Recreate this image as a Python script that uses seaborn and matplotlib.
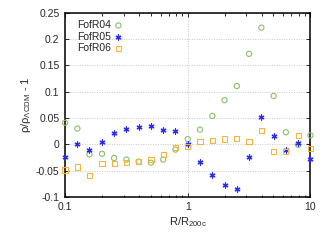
import matplotlib
matplotlib.use("Agg")
import matplotlib.pyplot as plt
import numpy as np
import pandas as pd
import seaborn as sns
from matplotlib.ticker import FixedLocator, LogLocator, NullFormatter

# radii R/R200c, 0.1 decade bins from 0.1 to 10
r_bins = [0.1, 0.126, 0.158, 0.2, 0.251, 0.316, 0.398, 0.501, 0.631, 0.794,
          1.0, 1.259, 1.585, 1.995, 2.512, 3.162, 3.981, 5.012, 6.31, 7.943, 10.0]

fofr04 = [0.041, 0.030, -0.019, -0.018, -0.026, -0.029, -0.033, -0.035, -0.029, -0.010,
          0.010, 0.028, 0.054, 0.084, 0.111, 0.172, 0.222, 0.092, 0.023, -0.001, 0.017]
fofr05 = [-0.024, 0.001, -0.011, 0.005, 0.022, 0.029, 0.033, 0.035, 0.028, 0.025,
          0.001, -0.033, -0.058, -0.077, -0.085, -0.024, 0.052, 0.016, -0.011, 0.002, -0.027]
fofr06 = [-0.049, -0.043, -0.059, -0.037, -0.036, -0.035, -0.033, -0.029, -0.019, -0.006,
          -0.004, 0.006, 0.007, 0.010, 0.011, 0.006, 0.026, -0.014, -0.014, 0.017, -0.008]

y_ticks = [-0.1, -0.05, 0, 0.05, 0.1, 0.15, 0.2, 0.25]
y_ticklabels = ["-0.1", "-0.05", "0", "0.05", "0.1", "0.15", "0.2", "0.25"]

sns.set_style("ticks")
plt.rcParams["font.family"] = ["Liberation Sans", "DejaVu Sans"]
plt.rcParams["mathtext.fontset"] = "custom"
plt.rcParams["mathtext.rm"] = "Liberation Sans"
plt.rcParams["mathtext.it"] = "Liberation Sans"

fig = plt.figure(figsize=(3.32, 2.48), dpi=100)
ax = fig.add_axes([0.196, 0.206, 0.739, 0.742])

series = [
    ("FofR04", fofr04, "#88c06a", "o"),
    ("FofR05", fofr05, "#2b2bf0", (6, 2, 0)),
    ("FofR06", fofr06, "#f7b53c", "s"),
]

for name, vals, col, mk in series:
    df = pd.DataFrame({"r": r_bins, "delta": vals})
    if mk in ("o", "s"):
        sns.scatterplot(data=df, x="r", y="delta", ax=ax, marker=mk, s=14,
                        facecolors="none", edgecolor=col, linewidth=0.8,
                        label=name, clip_on=False, zorder=3)
    else:
        sns.scatterplot(data=df, x="r", y="delta", ax=ax, marker=mk, s=13,
                        color=col, edgecolor=col, linewidth=0.9,
                        label=name, clip_on=False, zorder=3)

ax.set_xscale("log")
ax.set_xlim(0.1, 10)
ax.set_ylim(-0.1, 0.25)
ax.set_xticks([0.1, 1, 10])
ax.set_xticklabels(["0.1", "1", "10"])
ax.xaxis.set_minor_locator(LogLocator(base=10, subs=np.arange(2, 10)))
ax.xaxis.set_minor_formatter(NullFormatter())
ax.yaxis.set_major_locator(FixedLocator(y_ticks))
ax.set_yticklabels(y_ticklabels)

ax.grid(True, which="major", linestyle=(0, (1, 1.5)), color="#c8c8c8", linewidth=0.7)
ax.tick_params(which="both", direction="in", top=True, right=True, labelsize=7.5,
               length=3, width=0.7, pad=4)
ax.tick_params(which="minor", length=1.8)
for sp in ax.spines.values():
    sp.set_linewidth(1.1)
    sp.set_color("black")

ax.set_xlabel(r"R/R$_{\mathrm{200c}}$", fontsize=8, labelpad=2)
ax.set_ylabel(r"$\mathrm{\rho/\rho_{\Lambda CDM}}$ - 1", fontsize=8, labelpad=2)

leg = ax.legend(loc="upper left", frameon=False, markerfirst=False, fontsize=7.5,
                handletextpad=0.3, labelspacing=0.15, borderaxespad=0.3,
                handlelength=0.8, bbox_to_anchor=(0.02, 1.0))

fig.savefig("out.png", dpi=100)
